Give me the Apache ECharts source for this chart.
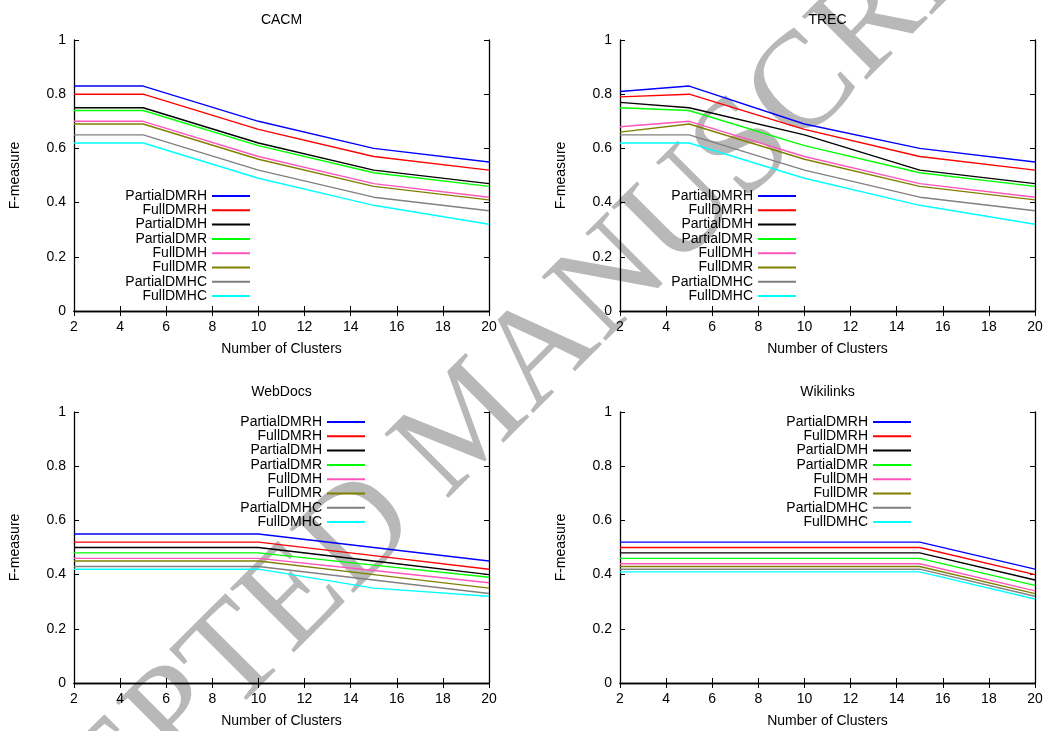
<!DOCTYPE html>
<html>
<head>
<meta charset="utf-8">
<script src="https://cdn.jsdelivr.net/npm/echarts@6/dist/echarts.min.js"></script>
<style>
  html, body { margin: 0; padding: 0; background: #fff; }
  #chart { width: 1049px; height: 731px; }
</style>
</head>
<body>
<div id="chart"></div>
<script>
// number of clusters (x values shared by all panels)
const clusters = [2, 5, 10, 15, 20];
const methods = ['PartialDMRH', 'FullDMRH', 'PartialDMH', 'PartialDMR', 'FullDMH', 'FullDMR', 'PartialDMHC', 'FullDMHC'];
const colors = ['#0000ff', '#ff0000', '#000000', '#00ff00', '#ff55bb', '#808000', '#808080', '#00ffff'];
const xTicks = [2, 4, 6, 8, 10, 12, 14, 16, 18, 20];
const yTicks = [0, 0.2, 0.4, 0.6, 0.8, 1];

// F-measure per method, one row per method (same order as methods)
const cacm = [
  [0.83, 0.83, 0.70, 0.60, 0.55],
  [0.80, 0.80, 0.67, 0.57, 0.52],
  [0.75, 0.75, 0.62, 0.52, 0.47],
  [0.74, 0.74, 0.61, 0.51, 0.46],
  [0.70, 0.70, 0.57, 0.47, 0.42],
  [0.69, 0.69, 0.56, 0.46, 0.41],
  [0.65, 0.65, 0.52, 0.42, 0.37],
  [0.62, 0.62, 0.49, 0.39, 0.32]
];
const trec = [
  [0.81, 0.83, 0.69, 0.60, 0.55],
  [0.79, 0.80, 0.67, 0.57, 0.52],
  [0.77, 0.75, 0.65, 0.52, 0.47],
  [0.75, 0.74, 0.61, 0.51, 0.46],
  [0.68, 0.70, 0.57, 0.47, 0.42],
  [0.66, 0.69, 0.56, 0.46, 0.41],
  [0.65, 0.65, 0.52, 0.42, 0.37],
  [0.62, 0.62, 0.49, 0.39, 0.32]
];
const webDocs = [
  [0.55, 0.55, 0.55, 0.50, 0.45],
  [0.52, 0.52, 0.52, 0.47, 0.42],
  [0.50, 0.50, 0.50, 0.45, 0.40],
  [0.48, 0.48, 0.48, 0.435, 0.39],
  [0.46, 0.46, 0.46, 0.415, 0.37],
  [0.45, 0.45, 0.45, 0.40, 0.35],
  [0.43, 0.43, 0.43, 0.38, 0.33],
  [0.42, 0.42, 0.42, 0.35, 0.32]
];
const wikilinks = [
  [0.52, 0.52, 0.52, 0.52, 0.42],
  [0.50, 0.50, 0.50, 0.50, 0.40],
  [0.48, 0.48, 0.48, 0.48, 0.38],
  [0.46, 0.46, 0.46, 0.46, 0.36],
  [0.44, 0.44, 0.44, 0.44, 0.34],
  [0.43, 0.43, 0.43, 0.43, 0.33],
  [0.42, 0.42, 0.42, 0.42, 0.32],
  [0.41, 0.41, 0.41, 0.41, 0.31]
];

const panels = [
  { title: 'CACM', values: cacm, left: 74, top: 40, legendRight: 799, legendTop: 189 },
  { title: 'TREC', values: trec, left: 620, top: 40, legendRight: 253, legendTop: 189 },
  { title: 'WebDocs', values: webDocs, left: 74, top: 412, legendRight: 684, legendTop: 415 },
  { title: 'Wikilinks', values: wikilinks, left: 620, top: 412, legendRight: 138, legendTop: 415 }
];
const gridW = 415, gridH = 271;
const font = 'Liberation Sans, Arial, sans-serif';
const black = '#000';

const chart = echarts.init(document.getElementById('chart'), null, { renderer: 'canvas' });

const option = {
  animation: false,
  color: colors,
  textStyle: { fontFamily: font },
  title: [], grid: [], xAxis: [], yAxis: [], legend: [], series: [],
  graphic: [{
    type: 'text',
    x: 470, y: 425,
    rotation: Math.PI / 4,
    z: -1,
    style: {
      text: 'ACCEPTED MANUSCRIPT',
      font: '138px "Liberation Serif", "DejaVu Serif", serif',
      fill: '#b8b8b8',
      align: 'center',
      verticalAlign: 'middle'
    }
  }]
};

const tickStyle = { show: true, inside: true, length: 5, lineStyle: { color: black, width: 1 } };
const lineStyle = { show: true, lineStyle: { color: black, width: 1.3 } };

panels.forEach((p, gi) => {
  option.title.push({
    text: p.title,
    left: p.left + gridW / 2,
    top: p.top - 27,
    padding: 0,
    textAlign: 'center',
    textStyle: { fontFamily: font, fontSize: 14, fontWeight: 'normal', color: black }
  });
  option.grid.push({ left: p.left, top: p.top, width: gridW, height: gridH, containLabel: false });

  option.xAxis.push({
    type: 'value', gridIndex: gi, min: 2, max: 20, interval: 2, position: 'bottom',
    name: 'Number of Clusters', nameLocation: 'middle', nameGap: 31,
    nameTextStyle: { fontFamily: font, fontSize: 14, color: black },
    axisLine: lineStyle, axisTick: tickStyle, splitLine: { show: false },
    axisLabel: { fontFamily: font, fontSize: 14, color: black, margin: 9,
      formatter: v => xTicks.includes(v) ? String(v) : '' }
  });
  option.xAxis.push({
    type: 'value', gridIndex: gi, min: 2, max: 20, interval: 2, position: 'top',
    axisLine: lineStyle, axisTick: tickStyle, splitLine: { show: false }, axisLabel: { show: false }
  });
  option.yAxis.push({
    type: 'value', gridIndex: gi, min: 0, max: 1, interval: 0.2, position: 'left',
    name: 'F-measure', nameLocation: 'middle', nameGap: 52,
    nameTextStyle: { fontFamily: font, fontSize: 14, color: black },
    axisLine: lineStyle, axisTick: tickStyle, splitLine: { show: false },
    axisLabel: { fontFamily: font, fontSize: 14, color: black, margin: 8,
      formatter: v => { const t = yTicks.find(k => Math.abs(k - v) < 1e-6); return t === undefined ? '' : String(t); } }
  });
  option.yAxis.push({
    type: 'value', gridIndex: gi, min: 0, max: 1, interval: 0.2, position: 'right',
    axisLine: lineStyle, axisTick: tickStyle, splitLine: { show: false }, axisLabel: { show: false }
  });

  option.legend.push({
    data: methods,
    orient: 'vertical',
    align: 'right',
    right: p.legendRight,
    top: p.legendTop,
    padding: 0,
    itemGap: 0.3,
    itemWidth: 38,
    itemHeight: 2,
    icon: 'rect',
    selectedMode: false,
    textStyle: { fontFamily: font, fontSize: 14, color: black, lineHeight: 14 }
  });

  methods.forEach((m, si) => {
    option.series.push({
      name: m,
      type: 'line',
      xAxisIndex: gi * 2,
      yAxisIndex: gi * 2,
      data: clusters.map((c, k) => [c, p.values[si][k]]),
      showSymbol: false,
      symbol: 'none',
      z: 3,
      lineStyle: { width: 1.4, color: colors[si] },
      itemStyle: { color: colors[si] }
    });
  });
});

chart.setOption(option);
</script>
</body>
</html>
